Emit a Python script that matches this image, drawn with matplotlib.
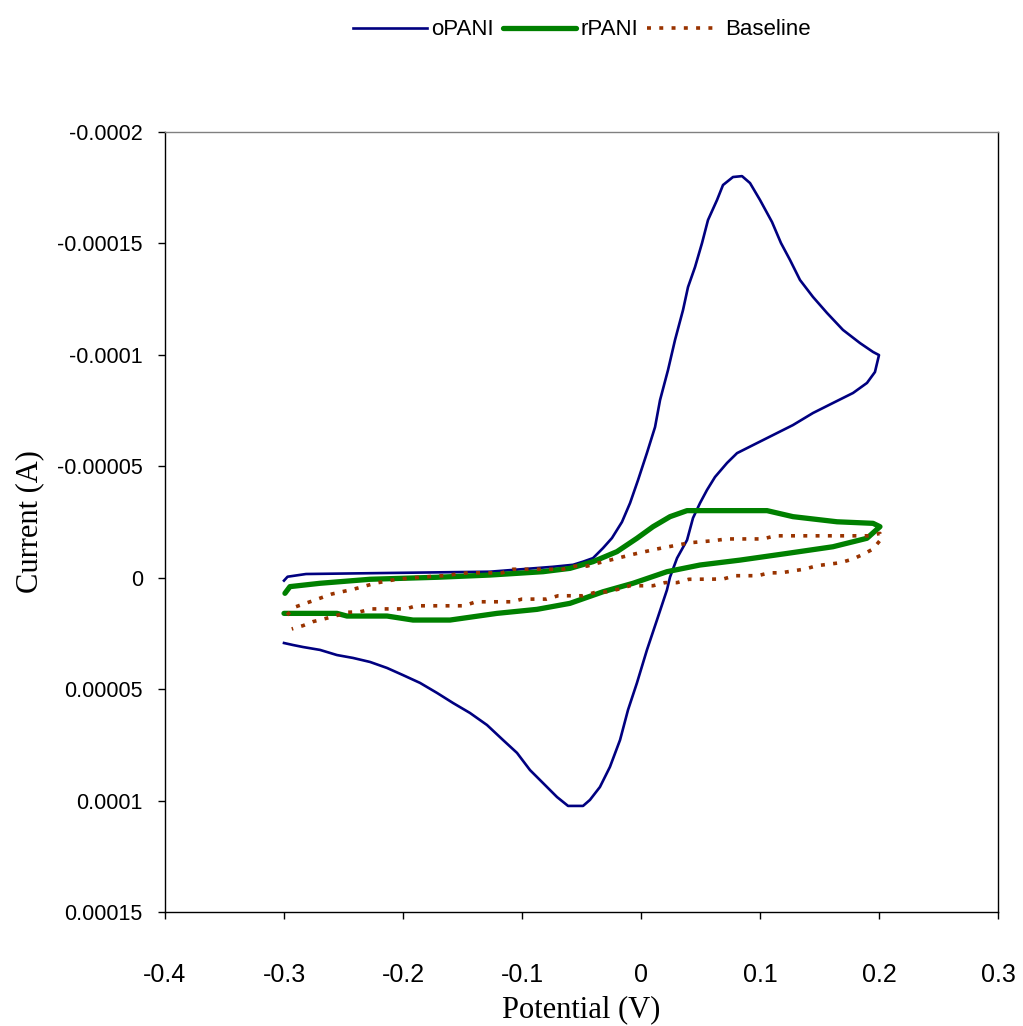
import matplotlib
matplotlib.use("Agg")
import matplotlib.pyplot as plt
from matplotlib.ticker import FixedLocator, FixedFormatter

# ---------------- data ----------------
opani_v = [-0.300, -0.297, -0.2815, -0.1269, -0.074, -0.0571, -0.0487, -0.0403, -0.0319,
           -0.0244, -0.016, -0.0092, -0.0025, 0.005, 0.0118, 0.016, 0.0227, 0.0286,
           0.0353, 0.0395, 0.0454, 0.0513, 0.0563, 0.0639, 0.0689, 0.0773, 0.0849,
           0.0916, 0.100, 0.1101, 0.1176, 0.1252, 0.1336, 0.1445, 0.1563, 0.1697,
           0.184, 0.195, 0.200,
           0.1966, 0.1899, 0.1782, 0.1613, 0.1445, 0.1277, 0.1109, 0.0941, 0.0807,
           0.0723, 0.0622, 0.0555, 0.0496, 0.0437, 0.0387, 0.0303, 0.0244, 0.0218,
           0.0134, 0.005, -0.0034, -0.0109, -0.0176, -0.0261, -0.0345, -0.0429,
           -0.0487, -0.0613, -0.0706, -0.0824, -0.0933, -0.1042, -0.116, -0.1294,
           -0.1437, -0.158, -0.1714, -0.1857, -0.200, -0.2134, -0.2277, -0.242,
           -0.2555, -0.2697, -0.284, -0.2924, -0.300]
opani_i = [1.3e-6, -0.45e-6, -1.66e-6, -2.7e-6, -4.9e-6, -5.8e-6, -7.2e-6, -8.8e-6, -13.3e-6,
           -17.8e-6, -25.0e-6, -33.5e-6, -43.8e-6, -56.0e-6, -67.6e-6, -79.7e-6, -93.2e-6, -106.7e-6,
           -120.1e-6, -130.4e-6, -139.4e-6, -150.2e-6, -160.5e-6, -169.5e-6, -176.2e-6, -179.8e-6, -180.2e-6,
           -177.1e-6, -169.5e-6, -159.6e-6, -150.2e-6, -142.6e-6, -133.6e-6, -126.0e-6, -118.8e-6, -111.2e-6,
           -105.3e-6, -101.3e-6, -99.9e-6,
           -92.3e-6, -87.4e-6, -82.9e-6, -78.4e-6, -73.9e-6, -68.5e-6, -64.0e-6, -59.5e-6, -55.9e-6,
           -51.5e-6, -45.2e-6, -39.4e-6, -33.5e-6, -26.8e-6, -16.9e-6, -8.8e-6, -0.3e-6, 5.5e-6,
           19.0e-6, 32.4e-6, 47.2e-6, 59.3e-6, 72.8e-6, 84.9e-6, 93.9e-6, 99.7e-6,
           102.4e-6, 102.4e-6, 98.4e-6, 92.1e-6, 86.3e-6, 78.6e-6, 72.8e-6, 66.1e-6,
           60.7e-6, 56.2e-6, 51.7e-6, 47.2e-6, 43.7e-6, 40.5e-6, 37.8e-6, 36.0e-6,
           34.7e-6, 32.4e-6, 31.1e-6, 30.2e-6, 29.3e-6]

rpani_v = [-0.2992, -0.295, -0.2697, -0.2277, -0.1714, -0.1269, -0.0824, -0.0597, -0.0403,
           -0.0202, -0.0034, 0.0101, 0.0244, 0.0387, 0.1059, 0.1277, 0.1647, 0.195, 0.2008,
           0.1899, 0.1613, 0.1227, 0.0832, 0.0496, 0.0218, -0.0067, -0.0319, -0.0597,
           -0.0874, -0.121, -0.1605, -0.1916, -0.2134, -0.2471, -0.2555, -0.300]
rpani_i = [7.0e-6, 4.0e-6, 2.5e-6, 0.7e-6, -0.2e-6, -1.2e-6, -2.7e-6, -4.2e-6, -7.2e-6,
           -11.7e-6, -17.7e-6, -22.9e-6, -27.4e-6, -30.1e-6, -30.1e-6, -27.4e-6, -25.1e-6, -24.4e-6, -22.9e-6,
           -17.7e-6, -13.9e-6, -10.9e-6, -7.9e-6, -5.7e-6, -2.7e-6, 2.5e-6, 6.3e-6, 11.5e-6,
           14.2e-6, 16.0e-6, 19.0e-6, 19.0e-6, 17.2e-6, 17.2e-6, 16.0e-6, 16.0e-6]

base_v = [-0.2975, -0.2899, -0.2782, -0.2597, -0.2412, -0.2227, -0.2042, -0.1857, -0.1664,
          -0.1454, -0.1168, -0.1076, -0.0655, -0.0555, -0.0454, -0.0353, -0.0261, -0.0067,
          0.0134, 0.0311, 0.0412, 0.0605, 0.0723, 0.1025, 0.1126, 0.1924, 0.2008, 0.2025,
          0.195, 0.1882, 0.1782, 0.1672, 0.1479, 0.1378, 0.1176, 0.1076, 0.0983, 0.079,
          0.0689, 0.0403, 0.0303, 0.0202, 0.0101, -0.0092, -0.0185, -0.0286, -0.0387,
          -0.049, -0.0697, -0.0792, -0.100, -0.1087, -0.1387, -0.1487, -0.1891, -0.1975,
          -0.2263, -0.2361, -0.2462, -0.2566, -0.2664, -0.2756, -0.284, -0.2935]
base_i = [16.7e-6, 13.0e-6, 10.8e-6, 7.3e-6, 5.1e-6, 2.4e-6, 0.6e-6, -0.2e-6, -0.9e-6,
          -2.2e-6, -2.2e-6, -3.8e-6, -3.8e-6, -5.2e-6, -5.2e-6, -6.7e-6, -7.9e-6, -10.5e-6,
          -12.9e-6, -14.7e-6, -15.7e-6, -16.6e-6, -17.4e-6, -17.4e-6, -18.8e-6, -18.8e-6, -19.9e-6, -17.8e-6,
          -12.9e-6, -10.9e-6, -8.4e-6, -6.7e-6, -5.4e-6, -3.9e-6, -2.2e-6, -2.2e-6, -0.9e-6, -0.9e-6,
          0.6e-6, 0.7e-6, 2.2e-6, 2.2e-6, 3.6e-6, 3.6e-6, 5.1e-6, 6.3e-6, 6.6e-6,
          8.1e-6, 8.1e-6, 9.6e-6, 9.6e-6, 10.8e-6, 10.8e-6, 12.6e-6, 12.6e-6, 14.0e-6,
          14.0e-6, 15.3e-6, 15.5e-6, 17.1e-6, 18.5e-6, 19.7e-6, 21.5e-6, 23.0e-6]

x_ticks = [-0.4, -0.3, -0.2, -0.1, 0.0, 0.1, 0.2, 0.3]
x_labels = ["-0.4", "-0.3", "-0.2", "-0.1", "0", "0.1", "0.2", "0.3"]
y_ticks = [-0.0002, -0.00015, -0.0001, -0.00005, 0.0, 0.00005, 0.0001, 0.00015]
y_labels = ["-0.0002", "-0.00015", "-0.0001", "-0.00005", "0", "0.00005", "0.0001", "0.00015"]

# ---------------- figure ----------------
sans = ["Liberation Sans", "DejaVu Sans"]
serif = ["Liberation Serif", "DejaVu Serif"]

fig = plt.figure(figsize=(10.23, 10.26), dpi=100)
ax = fig.add_axes([165 / 1023, 1 - 912 / 1026, (998 - 165) / 1023, (912 - 132) / 1026])

ax.plot(opani_v, opani_i, color="#000080", lw=1.9, label="oPANI", solid_joinstyle="round")
ax.plot(rpani_v, rpani_i, color="#008000", lw=3.8, label="rPANI", solid_capstyle="round",
        solid_joinstyle="round")
ax.plot(base_v, base_i, color="#993300", lw=2.6, linestyle=(0, (1.1, 2.3)),
        dash_capstyle="butt", label="Baseline")

ax.set_xlim(-0.4, 0.3)
ax.set_ylim(0.00015, -0.0002)

ax.xaxis.set_major_locator(FixedLocator(x_ticks))
ax.xaxis.set_major_formatter(FixedFormatter(x_labels))
ax.yaxis.set_major_locator(FixedLocator(y_ticks))
ax.yaxis.set_major_formatter(FixedFormatter(y_labels))

ax.tick_params(axis="both", direction="out", length=5, width=1, color="black")
ax.tick_params(axis="x", pad=32)
ax.tick_params(axis="y", pad=11)
for lab in ax.get_xticklabels():
    lab.set_family(sans)
    lab.set_fontsize(18)
for lab in ax.get_yticklabels():
    lab.set_family(sans)
    lab.set_fontsize(15.5)

for side in ["left", "bottom", "right"]:
    ax.spines[side].set_color("black")
    ax.spines[side].set_linewidth(1)
ax.spines["top"].set_color("#808080")
ax.spines["top"].set_linewidth(1)

ax.set_xlabel("Potential (V)", family=serif, fontsize=22)
ax.xaxis.set_label_coords(0.5, -(1010 - 912) / 780, transform=ax.transAxes)
ax.set_ylabel("Current (A)", family=serif, fontsize=22)
ax.yaxis.set_label_coords(-(165 - 30) / 833, 0.5, transform=ax.transAxes)
ax.yaxis.label.set_verticalalignment("center")
ax.xaxis.label.set_verticalalignment("center")

leg = fig.legend(loc="center", bbox_to_anchor=(582 / 1023, 1 - 30 / 1026), ncol=3, frameon=False,
                 prop={"family": sans, "size": 16}, handlelength=3.3, handletextpad=0.2,
                 columnspacing=0.4)

fig.savefig("out.png", dpi=100, facecolor="white")
